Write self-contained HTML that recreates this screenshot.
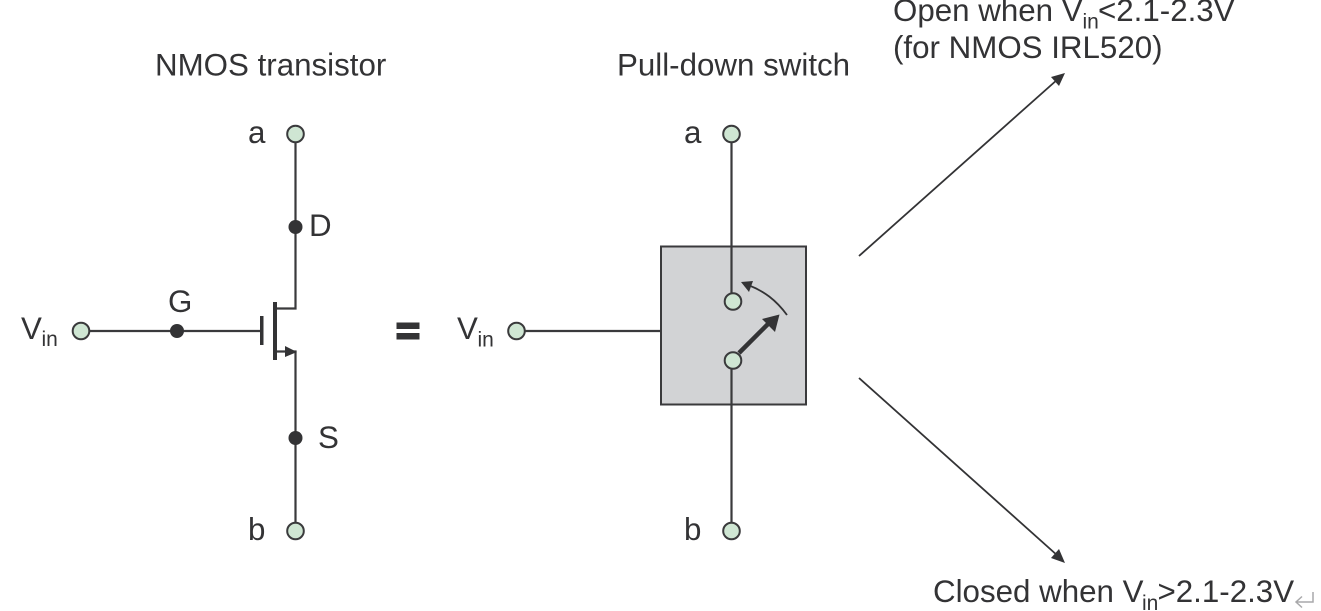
<!DOCTYPE html>
<html>
<head>
<meta charset="utf-8">
<style>
html,body{margin:0;padding:0;background:#fff;width:1321px;height:611px;overflow:hidden}
svg{display:block}
text{font-family:"Liberation Sans",sans-serif;fill:#333335;font-size:31.3px}
.s{font-size:21px}
.l{stroke:#3a3a3c;fill:none;stroke-width:2.2}
.c{fill:#cfe6d3;stroke:#3a3a3c;stroke-width:2}
.d{fill:#333335}
</style>
</head>
<body>
<svg width="1321" height="611" viewBox="0 0 1321 611" xmlns="http://www.w3.org/2000/svg">
<rect x="661" y="246.500" width="145" height="158" fill="#d2d3d5" stroke="#3a3a3c" stroke-width="2"/>

<!-- Left: NMOS -->
<path class="l" d="M295.500 141V308.500H275M89 331H261M275 351.500H295.500V523"/>
<rect x="260" y="316" width="3.500" height="29" class="d"/>
<rect x="273" y="302" width="4" height="58" class="d"/>
<path class="d" d="M285 346L297 352L285 357Z"/>
<circle class="d" cx="295.500" cy="227" r="7"/>
<circle class="d" cx="295.500" cy="438" r="7"/>
<circle class="d" cx="177" cy="331" r="7"/>
<circle class="c" cx="295.500" cy="134" r="8.300"/>
<circle class="c" cx="295.500" cy="531" r="8.300"/>
<circle class="c" cx="81" cy="331" r="8.300"/>

<!-- Right: switch -->
<path class="l" d="M731.500 141V295M731.500 368V523M524 331H661"/>
<path d="M739 353L770 322" stroke="#333335" stroke-width="4.500" fill="none"/>
<path class="d" d="M779.500 314.500L775 332L762 319Z"/>
<path d="M787 315C776 300 764 291 748 285" stroke="#333335" stroke-width="1.800" fill="none"/>
<path class="d" d="M741 282L753 281L749 292Z"/>
<circle class="c" cx="733" cy="301.500" r="8.300"/>
<circle class="c" cx="733" cy="360.500" r="8.300"/>
<circle class="c" cx="731.500" cy="134" r="8.300"/>
<circle class="c" cx="731.500" cy="531" r="8.300"/>
<circle class="c" cx="516.500" cy="331" r="8.300"/>

<!-- Equals -->
<rect x="396.500" y="322.500" width="23" height="6.500" class="d"/>
<rect x="396.500" y="333" width="23" height="6.500" class="d"/>

<!-- Long arrows -->
<path d="M859 256L1058 79M859 378L1058 556" stroke="#333335" stroke-width="1.800" fill="none"/>
<path class="d" d="M1065 73L1059 86L1051 77Z"/>
<path class="d" d="M1065 563L1051 558L1059 549Z"/>

<!-- Return mark -->
<path d="M1313 592V602H1296M1302 596.500L1296 602L1302 607.500" stroke="#a9a9ab" stroke-width="1.500" fill="none"/>

<!-- Text -->
<text x="155" y="75.500">NMOS transistor</text>
<text x="617" y="75.500">Pull-down switch</text>
<text x="248" y="143">a</text>
<text x="684" y="143">a</text>
<text x="309" y="236">D</text>
<text x="168" y="312">G</text>
<text x="318" y="448">S</text>
<text x="248" y="540">b</text>
<text x="684" y="540">b</text>
<text x="21" y="339">V</text><text class="s" x="41.500" y="346">in</text>
<text x="457" y="339">V</text><text class="s" x="477.500" y="346.500">in</text>
<text x="893" y="21">Open when V</text><text class="s" x="1082.500" y="28.500">in</text><text x="1098" y="21">&lt;2.1-2.3V</text>
<text x="893" y="58">(for NMOS IRL520)</text>
<text x="933" y="602">Closed when V</text><text class="s" x="1142" y="610">in</text><text x="1157.500" y="602">&gt;2.1-2.3V</text>
</svg>
</body>
</html>
